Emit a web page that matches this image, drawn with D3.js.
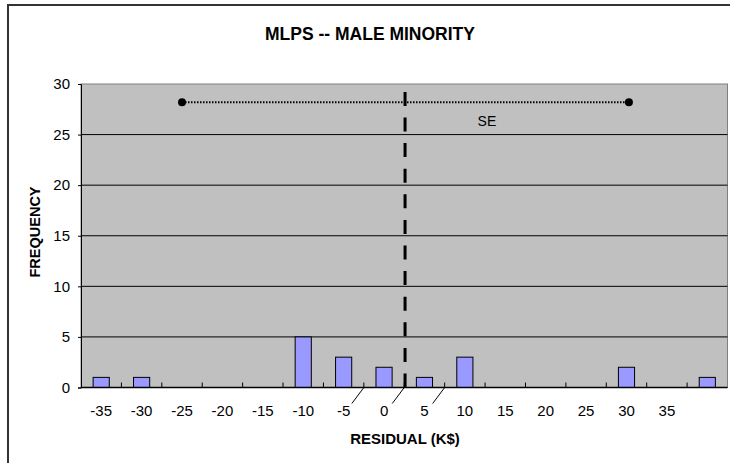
<!DOCTYPE html>
<html>
<head>
<meta charset="utf-8">
<script src="https://cdn.jsdelivr.net/npm/d3@7"></script>
<style>
  html, body { margin: 0; padding: 0; background: #ffffff; }
  svg { display: block; }
  text { font-family: Arial, "Liberation Sans", sans-serif; fill: #000; }
</style>
</head>
<body>
<svg id="chart" width="730" height="463"></svg>
<script>
// ---- data ----
const categories = [-35, -30, -25, -20, -15, -10, -5, 0, 5, 10, 15, 20, 25, 30, 35, 40];
const tickLabels = ["-35", "-30", "-25", "-20", "-15", "-10", "-5", "0", "5", "10", "15", "20", "25", "30", "35", ""];
const frequency = [1, 1, 0, 0, 0, 5, 3, 2, 1, 3, 0, 0, 0, 2, 0, 1];
const yTicks = [0, 5, 10, 15, 20, 25, 30];
const meanResidual = 2.6;
const seRange = [-25.0, 30.3];
const seLevel = 28.2;
const leaderValues = [-2.5, 2.5, 7.5];
const titleText = "MLPS -- MALE MINORITY";
const xTitle = "RESIDUAL (K$)";
const yTitle = "FREQUENCY";
const seLabel = "SE";

// ---- layout ----
const svg = d3.select("#chart");
const plot = { left: 81, right: 727.5, top: 84, bottom: 387.5 };

// outer frame
svg.append("rect")
  .attr("x", 8).attr("y", 5).attr("width", 740).attr("height", 480)
  .attr("fill", "#fff").attr("stroke", "#333").attr("stroke-width", 2);

const x = d3.scaleBand().domain(categories).range([plot.left, plot.right]).padding(0);
const y = d3.scaleLinear().domain([0, 30]).range([plot.bottom, plot.top]);
// continuous value scale aligned to band centers
const xv = d3.scaleLinear()
  .domain([categories[0], categories[categories.length - 1]])
  .range([x(categories[0]) + x.bandwidth() / 2, x(categories[categories.length - 1]) + x.bandwidth() / 2]);

// plot background
svg.append("rect")
  .attr("x", plot.left).attr("y", y(30))
  .attr("width", plot.right - plot.left).attr("height", y(0) - y(30))
  .attr("fill", "#c0c0c0").attr("stroke", "#808080").attr("stroke-width", 1);

// gridlines
svg.append("g").selectAll("line")
  .data(yTicks.filter(d => d > 0 && d < 30))
  .join("line")
  .attr("x1", plot.left).attr("x2", plot.right)
  .attr("y1", d => y(d)).attr("y2", d => y(d))
  .attr("stroke", "#000").attr("stroke-width", 1);

// bars
const barW = x.bandwidth() * 0.4;
svg.append("g").selectAll("rect")
  .data(categories.map((c, i) => ({ c, v: frequency[i] })).filter(d => d.v > 0))
  .join("rect")
  .attr("x", d => x(d.c) + (x.bandwidth() - barW) / 2)
  .attr("y", d => y(d.v))
  .attr("width", barW)
  .attr("height", d => y(0) - y(d.v))
  .attr("fill", "#9999ff").attr("stroke", "#000").attr("stroke-width", 1);

// y axis
const yAxis = svg.append("g")
  .attr("transform", `translate(${plot.left},0)`)
  .call(d3.axisLeft(y).tickValues(yTicks).tickSize(3).tickPadding(8));
yAxis.select(".domain").attr("stroke", "#000");
yAxis.selectAll(".tick line").attr("stroke", "#000");
yAxis.selectAll("text").attr("font-size", 15).style("font-family", "Arial, 'Liberation Sans', sans-serif");

// x axis: ticks at band boundaries, inside
const boundaries = categories.slice(1).map(c => x(c));
svg.append("line")
  .attr("x1", plot.left).attr("x2", plot.right)
  .attr("y1", y(0)).attr("y2", y(0))
  .attr("stroke", "#000").attr("stroke-width", 1.5);
svg.append("g").selectAll("line")
  .data(boundaries)
  .join("line")
  .attr("x1", d => d).attr("x2", d => d)
  .attr("y1", y(0)).attr("y2", y(0) - 5)
  .attr("stroke", "#000").attr("stroke-width", 1);
svg.append("g").selectAll("text")
  .data(categories)
  .join("text")
  .attr("x", d => x(d) + x.bandwidth() / 2)
  .attr("y", y(0) + 28)
  .attr("text-anchor", "middle")
  .attr("font-size", 15)
  .text((d, i) => tickLabels[i]);

// leader lines below axis
svg.append("g").selectAll("line")
  .data(leaderValues)
  .join("line")
  .attr("x1", d => xv(d)).attr("y1", y(0))
  .attr("x2", d => xv(d) - 12).attr("y2", y(0) + 16)
  .attr("stroke", "#000").attr("stroke-width", 1);

// SE dotted line with end points
svg.append("line")
  .attr("x1", xv(seRange[0])).attr("x2", xv(seRange[1]))
  .attr("y1", y(seLevel)).attr("y2", y(seLevel))
  .attr("stroke", "#000").attr("stroke-width", 2).attr("stroke-dasharray", "1.5,1.5");
svg.append("g").selectAll("circle")
  .data(seRange)
  .join("circle")
  .attr("cx", d => xv(d)).attr("cy", y(seLevel)).attr("r", 4)
  .attr("fill", "#000");
svg.append("text")
  .attr("x", xv(seRange[1]) - 142).attr("y", y(seLevel) + 24)
  .attr("text-anchor", "middle").attr("font-size", 14)
  .text(seLabel);

// mean dashed vertical line
svg.append("line")
  .attr("x1", xv(meanResidual)).attr("x2", xv(meanResidual))
  .attr("y1", y(0)).attr("y2", y(30))
  .attr("stroke", "#000").attr("stroke-width", 3).attr("stroke-dasharray", "14,11.6");

// titles
svg.append("text")
  .attr("x", 370).attr("y", 40)
  .attr("text-anchor", "middle").attr("font-size", 17.5).attr("font-weight", "bold")
  .text(titleText);
svg.append("text")
  .attr("x", 405).attr("y", 444)
  .attr("text-anchor", "middle").attr("font-size", 15).attr("font-weight", "bold")
  .text(xTitle);
svg.append("text")
  .attr("transform", "translate(40,232) rotate(-90)")
  .attr("text-anchor", "middle").attr("font-size", 14.5).attr("font-weight", "bold")
  .text(yTitle);
</script>
</body>
</html>
